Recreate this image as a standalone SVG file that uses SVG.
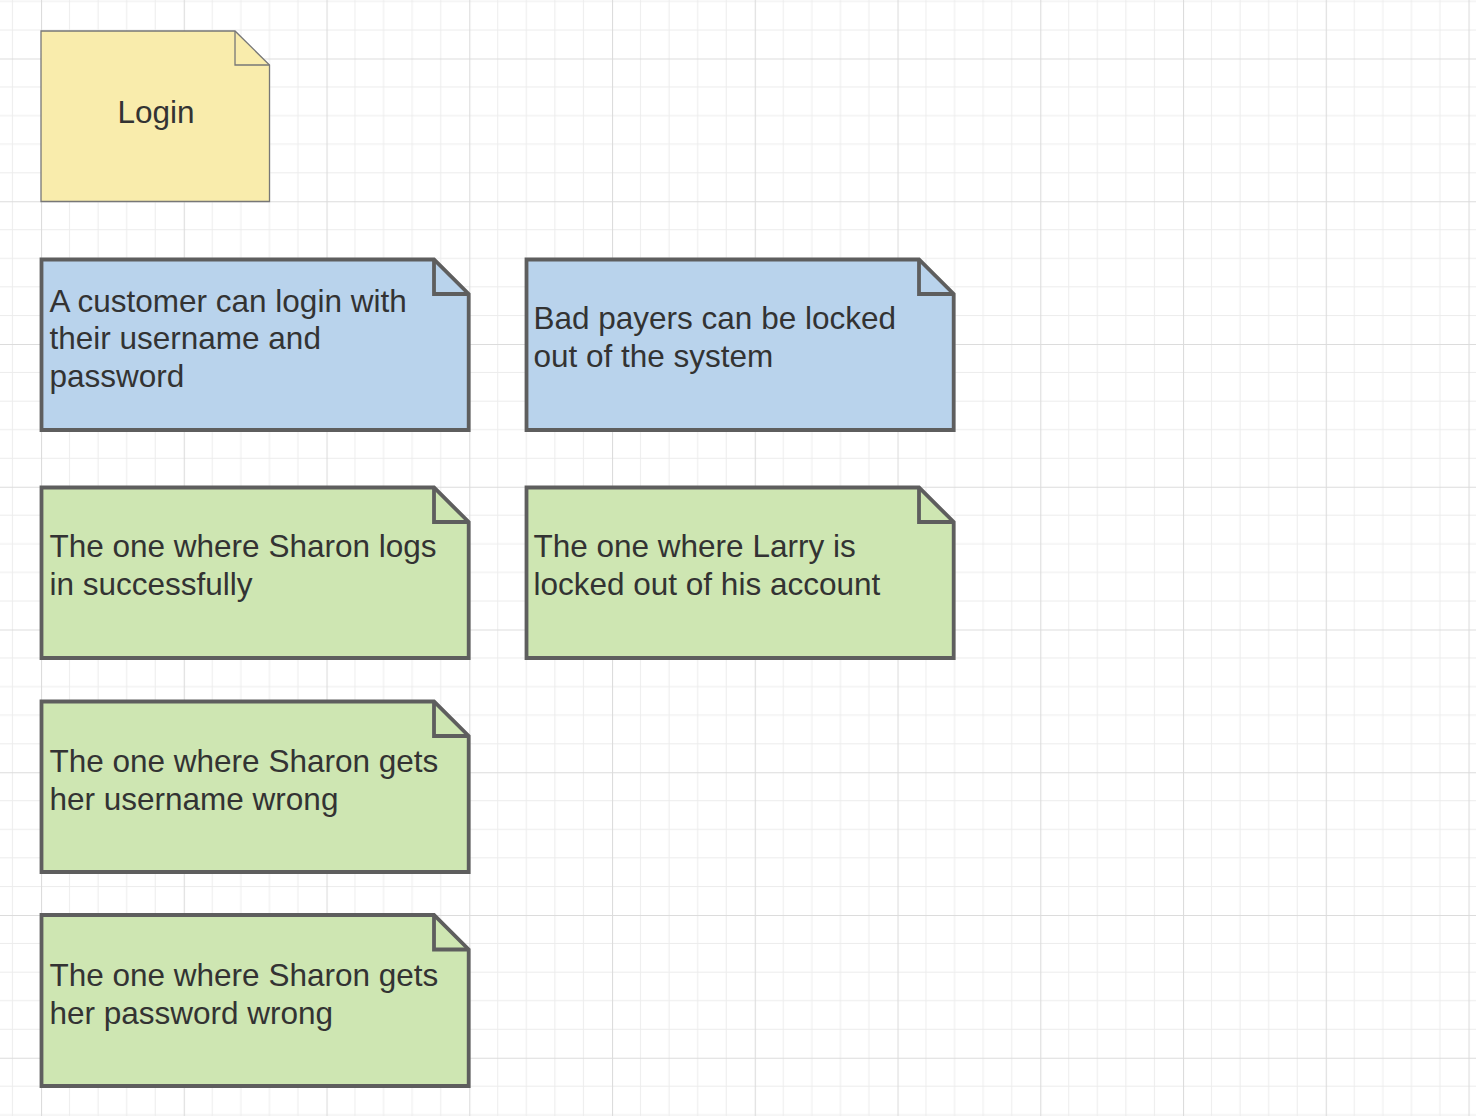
<svg xmlns="http://www.w3.org/2000/svg" width="1476" height="1116" viewBox="0 0 1476 1116">
  <defs>
    <pattern id="grid" patternUnits="userSpaceOnUse" x="41" y="58.5" width="142.75" height="142.75">
      <g stroke="#ececec" stroke-width="1" fill="none">
        <line x1="28.55" y1="0" x2="28.55" y2="142.75"/>
        <line x1="57.1" y1="0" x2="57.1" y2="142.75"/>
        <line x1="85.65" y1="0" x2="85.65" y2="142.75"/>
        <line x1="114.2" y1="0" x2="114.2" y2="142.75"/>
        <line x1="0" y1="28.55" x2="142.75" y2="28.55"/>
        <line x1="0" y1="57.1" x2="142.75" y2="57.1"/>
        <line x1="0" y1="85.65" x2="142.75" y2="85.65"/>
        <line x1="0" y1="114.2" x2="142.75" y2="114.2"/>
      </g>
      <g stroke="#dcdcdc" stroke-width="1.2" fill="none">
        <line x1="0.5" y1="0" x2="0.5" y2="142.75"/>
        <line x1="0" y1="0.5" x2="142.75" y2="0.5"/>
      </g>
    </pattern>
  </defs>
  <style>
    .note { stroke: #5e5e5e; stroke-width: 3.8; stroke-linejoin: miter; }
    .blue { fill: #b9d3ec; }
    .green { fill: #cee6b2; }
    .yellow { fill: #f9ecac; stroke: #777777; stroke-width: 1.3; }
    .fold { fill: none; }
    text { font-family: "Liberation Sans", Arial, sans-serif; font-size: 31.5px; fill: #333333; }
  </style>
  <rect x="0" y="0" width="1476" height="1116" fill="#ffffff"/>
  <rect x="0" y="0" width="1476" height="1116" fill="url(#grid)"/>

  <g id="node-login">
    <path class="yellow" d="M41,31 H235 L269.5,65 V201.5 H41 Z"/>
    <path class="yellow fold" d="M235,31 V65 H269.5"/>
    <text x="156" y="122.5" text-anchor="middle">Login</text>
  </g>

  <g id="node-customer-login">
    <path class="note blue" d="M41.5,259.5 H434 L468.7,294 V430 H41.5 Z"/>
    <path class="note fold" d="M434,259.5 V294 H468.7"/>
    <text x="49.5" y="311.5">A customer can login with</text>
    <text x="49.5" y="349">their username and</text>
    <text x="49.5" y="386.5">password</text>
  </g>

  <g id="node-bad-payers">
    <path class="note blue" d="M526.5,259.5 H919 L953.7,294 V430 H526.5 Z"/>
    <path class="note fold" d="M919,259.5 V294 H953.7"/>
    <text x="533.5" y="329">Bad payers can be locked</text>
    <text x="533.5" y="366.5">out of the system</text>
  </g>

  <g id="node-sharon-success">
    <path class="note green" d="M41.5,487.5 H434 L468.7,522 V658 H41.5 Z"/>
    <path class="note fold" d="M434,487.5 V522 H468.7"/>
    <text x="49.5" y="557">The one where Sharon logs</text>
    <text x="49.5" y="594.5">in successfully</text>
  </g>

  <g id="node-larry-locked">
    <path class="note green" d="M526.5,487.5 H919 L953.7,522 V658 H526.5 Z"/>
    <path class="note fold" d="M919,487.5 V522 H953.7"/>
    <text x="533.5" y="557">The one where Larry is</text>
    <text x="533.5" y="594.5">locked out of his account</text>
  </g>

  <g id="node-sharon-username">
    <path class="note green" d="M41.5,701.5 H434 L468.7,736 V872 H41.5 Z"/>
    <path class="note fold" d="M434,701.5 V736 H468.7"/>
    <text x="49.5" y="772">The one where Sharon gets</text>
    <text x="49.5" y="809.5">her username wrong</text>
  </g>

  <g id="node-sharon-password">
    <path class="note green" d="M41.5,915 H434 L468.7,949.5 V1086 H41.5 Z"/>
    <path class="note fold" d="M434,915 V949.5 H468.7"/>
    <text x="49.5" y="986">The one where Sharon gets</text>
    <text x="49.5" y="1023.5">her password wrong</text>
  </g>

  <g id="connectors"></g>
</svg>
